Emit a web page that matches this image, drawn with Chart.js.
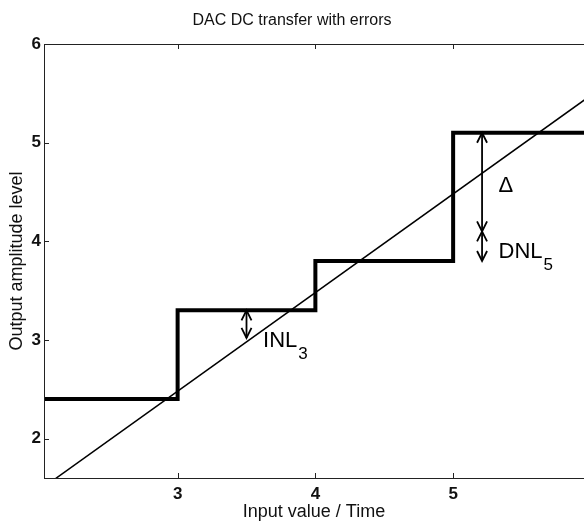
<!DOCTYPE html>
<html>
<head>
<meta charset="utf-8">
<script src="https://cdn.jsdelivr.net/npm/chart.js@4/dist/chart.umd.min.js"></script>
<style>
  html, body { margin: 0; padding: 0; background: #fff; }
  #wrap { width: 584px; height: 526px; }
</style>
</head>
<body>
<div id="wrap"><canvas id="dac-chart" width="584" height="526"></canvas></div>
<script>
// staircase output: each level is held until the next code edge
const codeEdges = [2, 3, 4, 5, 6];
const stepLevels = [2.4, 3.3, 3.8, 5.1, 5.1];
// ideal transfer line (end points)
const idealX = [2, 6];
const idealY = [1.48, 5.48];
const xTicks = [3, 4, 5];
const yTicks = [2, 3, 4, 5, 6];

// error arrows: [x, yFrom, yTo]
const inlArrow = [3.5, 3.3, 3.02];
const deltaArrow = [5.21, 5.1, 4.1];
const dnlArrow = [5.21, 4.1, 3.8];
// annotation texts: [text, subscript, x, y]
const noteLabels = [
    ['INL', '3', 3.62, 2.93],
    ['\u0394', '', 5.33, 4.5],
    ['DNL', '5', 5.33, 3.83]
];

const FONT = "'Liberation Sans', Arial, Helvetica, sans-serif";

function drawArrowHead(ctx, x, y, dir) {
    // dir = -1 points up, 1 points down
    ctx.beginPath();
    ctx.moveTo(x - 5, y - dir * 10);
    ctx.lineTo(x, y);
    ctx.lineTo(x + 5, y - dir * 10);
    ctx.stroke();
}

function drawArrow(ctx, xs, ys, a) {
    const x = xs.getPixelForValue(a[0]);
    const y1 = ys.getPixelForValue(a[1]);
    const y2 = ys.getPixelForValue(a[2]);
    ctx.beginPath();
    ctx.moveTo(x, y1);
    ctx.lineTo(x, y2);
    ctx.stroke();
    drawArrowHead(ctx, x, y1, y1 < y2 ? -1 : 1);
    drawArrowHead(ctx, x, y2, y2 < y1 ? -1 : 1);
}

const framePlugin = {
    id: 'frame',
    afterDatasetsDraw(chart) {
        const ctx = chart.ctx;
        const area = chart.chartArea;
        const xs = chart.scales.x;
        const ys = chart.scales.y;
        ctx.save();
        ctx.strokeStyle = '#222';
        ctx.lineWidth = 1;
        ctx.strokeRect(area.left + 0.5, area.top + 0.5, area.right - area.left, area.bottom - area.top);
        // inward tick marks
        ctx.beginPath();
        xTicks.forEach(v => {
            const px = Math.round(xs.getPixelForValue(v)) + 0.5;
            ctx.moveTo(px, area.bottom);
            ctx.lineTo(px, area.bottom - 5);
            ctx.moveTo(px, area.top);
            ctx.lineTo(px, area.top + 5);
        });
        yTicks.forEach(v => {
            const py = Math.round(ys.getPixelForValue(v)) + 0.5;
            ctx.moveTo(area.left, py);
            ctx.lineTo(area.left + 5, py);
        });
        ctx.stroke();

        // error arrows
        ctx.strokeStyle = '#000';
        ctx.lineWidth = 1.8;
        drawArrow(ctx, xs, ys, inlArrow);
        drawArrow(ctx, xs, ys, deltaArrow);
        drawArrow(ctx, xs, ys, dnlArrow);

        // labels with subscripts
        ctx.fillStyle = '#000';
        ctx.textBaseline = 'alphabetic';
        ctx.textAlign = 'left';
        noteLabels.forEach(([txt, sub, x, y]) => {
            const px = xs.getPixelForValue(x);
            const py = ys.getPixelForValue(y);
            ctx.font = '22px ' + FONT;
            ctx.fillText(txt, px, py);
            if (sub) {
                const w = ctx.measureText(txt).width;
                ctx.font = '17px ' + FONT;
                ctx.fillText(sub, px + w + 1, py + 12);
            }
        });
        ctx.restore();
    }
};

new Chart(document.getElementById('dac-chart'), {
    type: 'line',
    data: {
        datasets: [
            {
                label: 'DAC output',
                data: codeEdges.map((x, i) => ({ x: x, y: stepLevels[i] })),
                stepped: 'before',
                borderColor: '#000',
                borderWidth: 4,
                pointRadius: 0,
                fill: false
            },
            {
                label: 'Ideal',
                data: idealX.map((x, i) => ({ x: x, y: idealY[i] })),
                borderColor: '#000',
                borderWidth: 1.5,
                pointRadius: 0,
                fill: false
            }
        ]
    },
    options: {
        responsive: false,
        animation: false,
        devicePixelRatio: 1,
        layout: { padding: { left: 0, right: 0, top: 0, bottom: 0 } },
        plugins: {
            legend: { display: false },
            tooltip: { enabled: false },
            title: {
                display: true,
                text: 'DAC DC transfer with errors',
                color: '#111',
                font: { family: FONT, size: 16, weight: 'normal' },
                padding: { top: 11, bottom: 13.8 }
            }
        },
        scales: {
            x: {
                type: 'linear',
                min: 2.03,
                max: 5.95,
                afterBuildTicks: s => { s.ticks = xTicks.map(v => ({ value: v })); },
                afterFit: s => { s.height = 48; },
                grid: { display: false, drawTicks: false },
                border: { display: false },
                ticks: {
                    color: '#111',
                    padding: 6,
                    maxRotation: 0,
                    font: { family: FONT, size: 17, weight: 'bold' }
                },
                title: {
                    display: true,
                    text: 'Input value / Time',
                    color: '#111',
                    font: { family: FONT, size: 18 },
                    padding: { top: 0, bottom: 3 }
                }
            },
            y: {
                type: 'linear',
                min: 1.6,
                max: 6,
                afterBuildTicks: s => { s.ticks = yTicks.map(v => ({ value: v })); },
                afterFit: s => { s.width = 44; },
                grid: { display: false, drawTicks: false },
                border: { display: false },
                ticks: {
                    color: '#111',
                    padding: 3,
                    font: { family: FONT, size: 17, weight: 'bold' }
                },
                title: {
                    display: true,
                    text: 'Output amplitude level',
                    color: '#111',
                    font: { family: FONT, size: 18 },
                    padding: { top: 6, bottom: 0 }
                }
            }
        }
    },
    plugins: [framePlugin]
});
</script>
</body>
</html>
